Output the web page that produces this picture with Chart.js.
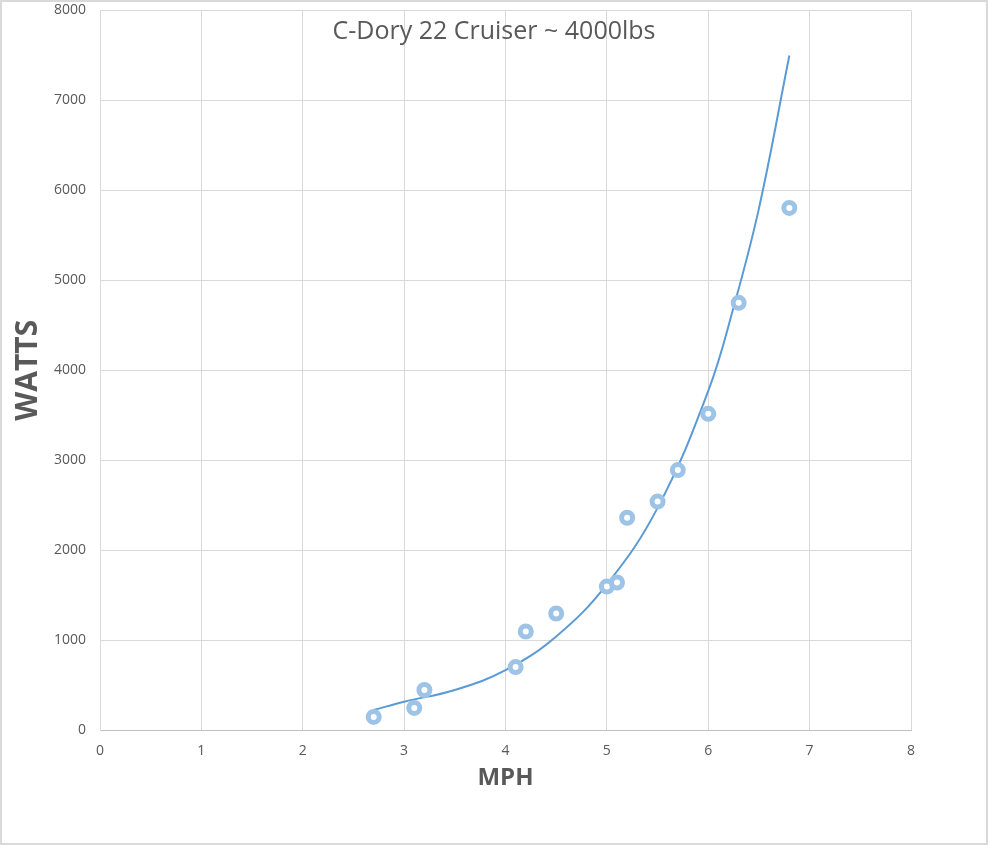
<!DOCTYPE html>
<html>
<head>
<meta charset="utf-8">
<script src="https://cdn.jsdelivr.net/npm/chart.js@4/dist/chart.umd.min.js"></script>
<style>
  html, body { margin: 0; padding: 0; background: #fff; }
  #wrap { width: 988px; height: 845px; position: relative; }
</style>
</head>
<body>
<div id="wrap"><canvas id="chart" width="988" height="845"></canvas></div>
<script>
const chartTitle = "C-Dory 22 Cruiser ~ 4000lbs";

// measured points
const mph = [2.7, 3.1, 3.2, 4.1, 4.2, 4.5, 5.0, 5.1, 5.2, 5.5, 5.7, 6.0, 6.3, 6.8];
const watts = [145, 245, 445, 700, 1095, 1295, 1595, 1640, 2360, 2540, 2890, 3515, 4750, 5805];

// trend line
const trendMph = [2.7, 3.0, 3.5, 4.0, 4.5, 5.0, 5.5, 6.0, 6.25, 6.5, 6.8];
const trendWatts = [222, 315, 445, 665, 1040, 1620, 2470, 3770, 4700, 5800, 7500];

const xTicks = [0, 1, 2, 3, 4, 5, 6, 7, 8];
const yTicks = [0, 1000, 2000, 3000, 4000, 5000, 6000, 7000, 8000];

const textColor = "#595959";
const gridColor = "#d9d9d9";
const font = "'Open Sans', sans-serif";

const frame = {
  id: "frame",
  beforeDraw(chart) {
    const ctx = chart.ctx;
    ctx.save();
    ctx.fillStyle = "#fff";
    ctx.fillRect(0, 0, chart.width, chart.height);
    ctx.restore();
  },
  afterDraw(chart) {
    const ctx = chart.ctx;
    ctx.save();
    ctx.strokeStyle = "#d9d9d9";
    ctx.lineWidth = 2;
    ctx.strokeRect(1, 1, chart.width - 2, chart.height - 2);
    ctx.fillStyle = textColor;
    ctx.font = "25px " + font;
    ctx.textAlign = "center";
    ctx.textBaseline = "middle";
    ctx.fillText(chartTitle, 494, 32);
    ctx.restore();
  }
};

new Chart(document.getElementById("chart"), {
  type: "scatter",
  data: {
    datasets: [
      {
        label: "trend",
        type: "line",
        data: trendMph.map((x, i) => ({ x, y: trendWatts[i] })),
        borderColor: "#5b9bd5",
        borderWidth: 2,
        pointRadius: 0,
        fill: false,
        tension: 0.4,
        order: 2
      },
      {
        label: "WATTS",
        data: mph.map((x, i) => ({ x, y: watts[i] })),
        backgroundColor: "#ffffff",
        borderColor: "rgba(157, 195, 230, 1)",
        borderWidth: 5,
        pointRadius: 5.5,
        order: 1
      }
    ]
  },
  options: {
    responsive: false,
    animation: false,
    layout: { padding: { left: 0, right: 77, top: 10, bottom: 48 } },
    plugins: {
      legend: { display: false },
      tooltip: { enabled: false }
    },
    scales: {
      x: {
        type: "linear",
        min: 0,
        max: 8,
        afterBuildTicks: (s) => { s.ticks = xTicks.map(v => ({ value: v })); },
        afterFit: (s) => { s.height = 67; },
        grid: { color: gridColor, drawTicks: false },
        border: { color: "#bfbfbf" },
        ticks: { color: textColor, padding: 13, font: { family: font, size: 14 } },
        title: {
          display: true,
          text: "MPH",
          color: textColor,
          font: { family: font, size: 24, weight: "bold" },
          padding: { top: 4 }
        }
      },
      y: {
        min: 0,
        max: 8000,
        afterBuildTicks: (s) => { s.ticks = yTicks.map(v => ({ value: v })); },
        afterFit: (s) => { s.width = 100; s.paddingTop = 0; s.paddingBottom = 0; },
        grid: { color: gridColor, drawTicks: false },
        border: { color: gridColor },
        ticks: {
          color: textColor,
          padding: 14,
          font: { family: font, size: 14 },
          callback: (v) => String(v)
        },
        title: {
          display: true,
          text: "WATTS",
          color: textColor,
          font: { family: font, size: 30, weight: "bold" },
          padding: { top: 10, bottom: 0 }
        }
      }
    }
  },
  plugins: [frame]
});
</script>
</body>
</html>
